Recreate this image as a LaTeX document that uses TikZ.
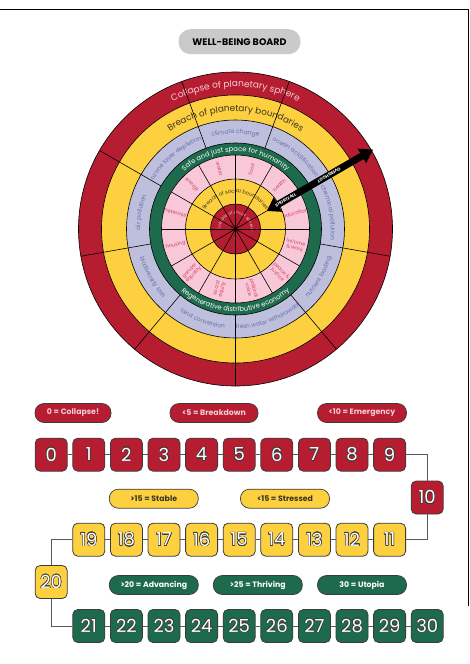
\documentclass[tikz,border=0pt]{standalone}
\usepackage{fontspec}
\setmainfont{Poppins}
\usepackage{contour}
\usetikzlibrary{decorations.text,arrows.meta,calc}

\definecolor{cred}{HTML}{B71D30}
\definecolor{cyel}{HTML}{FDD03F}
\definecolor{clav}{HTML}{BDBFDD}
\definecolor{cgrn}{HTML}{1E6A4C}
\definecolor{cpnk}{HTML}{F8C8D8}
\definecolor{clavtxt}{HTML}{6870A8}
\definecolor{cpnktxt}{HTML}{D43F5C}
\definecolor{clight}{HTML}{F6CCD6}
\definecolor{cdark}{HTML}{3A3520}
\definecolor{cgray}{HTML}{CACACA}
\definecolor{cedge}{HTML}{3C3C3C}

\contourlength{0.45pt}
\contournumber{16}
\newcommand{\nb}[1]{\contour{cedge}{#1}}
\newcommand{\arctxt}[6]{\path[decorate,decoration={text along path,text align=center,text color=#5,text={|\fontsize{#4}{#4}\selectfont|#6}}] ($(C)+(#2:#1)$) arc[start angle=#2,end angle=#3,radius=#1];}

\tikzset{
  ln/.style={draw=black,line width=0.6pt},
  numbox/.style={draw=cedge,line width=0.8pt,rounded corners=5pt,minimum width=32pt,minimum height=33pt,inner sep=0pt,text=white,font=\fontsize{18}{18}\selectfont},
  conn/.style={draw=cedge!85,line width=0.8pt},
  pill/.style={draw=cedge,line width=0.7pt,rounded corners=9pt,minimum height=19pt,minimum width=89pt,inner sep=0pt,font=\fontsize{7.8}{8}\selectfont\bfseries},
  plab/.style={font=\fontsize{5}{5.6}\selectfont,text=cpnktxt,align=center,inner sep=0pt},
  arrtxt/.style={font=\fontsize{4.2}{4.2}\selectfont\bfseries,text=white,inner sep=0pt}
}

\begin{document}
\begin{tikzpicture}[x=1pt,y=1pt]
\useasboundingbox (0,0) rectangle (469,-664);
\fill[white] (0,0) rectangle (469,-664);
\draw[line width=0.8pt] (0,-9) -- (468.5,-9) -- (468.5,-606);

% title
\node[fill=cgray,rounded corners=12pt,minimum width=122pt,minimum height=25pt,inner sep=0pt,font=\fontsize{9.5}{10}\selectfont\bfseries] (title) at (239.5,-41.7) {WELL-BEING BOARD};

% board
\coordinate (C) at (235.5,-229);
\fill[cred] (C) circle[radius=157];
\fill[cyel] (C) circle[radius=134];
\fill[clav] (C) circle[radius=109];
\fill[cgrn] (C) circle[radius=86];
\fill[cpnk] (C) circle[radius=74];
\fill[cyel] (C) circle[radius=50];
\fill[cred] (C) circle[radius=25];

% ring texts
\arctxt{142}{150}{30}{9}{clight}{Collapse of planetary sphere}
\arctxt{117.5}{160}{20}{8.8}{cdark}{Breach of planetary boundaries}
\arctxt{95.3}{165}{95}{6}{clavtxt}{ozone layer depletion}
\arctxt{95.3}{125}{55}{6}{clavtxt}{climate change}
\arctxt{95.3}{85}{15}{6}{clavtxt}{ocean acidification}
\arctxt{95.3}{45}{-25}{6}{clavtxt}{chemical pollution}
\arctxt{95.3}{205}{135}{6}{clavtxt}{air pollution}
\arctxt{99.7}{295}{365}{6}{clavtxt}{nutrient loading}
\arctxt{99.7}{255}{325}{5.8}{clavtxt}{fresh water withdrawals}
\arctxt{99.7}{215}{285}{6}{clavtxt}{land conversion}
\arctxt{99.7}{175}{245}{6}{clavtxt}{biodiversity loss}
\arctxt{77.5}{150}{30}{6.8}{white}{Safe and just space for humanity}
\arctxt{82.5}{200}{340}{6.8}{white}{Regenerative distributive economy}
\arctxt{36}{170}{10}{5.2}{cdark}{Breach of social boundaries}
\arctxt{15}{250}{-70}{4}{clight}{Collapse of social sphere}

% social foundation labels
\foreach \a/\r/\t in {105/-75/water,75/75/food,45/45/health,15/15/education,345/-15/{income\\\& work},315/-45/{peace \&\\justice},285/-75/{political\\voice},255/75/{social\\equity},225/45/{gender\\equality},195/15/housing,165/-15/networks,135/-45/energy}
  \node[plab,rotate=\r] (pl\a) at ($(C)+(\a:62)$) {\t};

% lines
\foreach \a in {30,70,...,350} \draw[ln] ($(C)+(\a:86)$) -- ($(C)+(\a:157)$);
\foreach \a in {0,30,...,330} \draw[ln] (C) -- ($(C)+(\a:74)$);
\foreach \r in {157,134,109,86,74,50,25} \draw[ln] (C) circle[radius=\r];
\fill[black] (C) circle[radius=1.6];

% arrow
\coordinate (A1) at ($(C)+(30:36)$);
\coordinate (A2) at ($(C)+(30:159)$);
\draw[line width=7pt,{Triangle[width=16pt,length=13pt]}-{Triangle[width=16pt,length=13pt]}] (A1) -- (A2);
\node[arrtxt,rotate=30] (sf) at ($(C)+(30:58)$) {SHORTFALL};
\node[arrtxt,rotate=210] (os) at ($(C)+(30:108)$) {OVERSHOOT};

% pills
\node[pill,fill=cred,text=clight,minimum width=76pt] (p1) at (73,-413) {0 = Collapse!};
\node[pill,fill=cred,text=clight,minimum width=88pt] (p2) at (214,-413) {<5 = Breakdown};
\node[pill,fill=cred,text=clight] (p3) at (362,-413) {<10 = Emergency};
\node[pill,fill=cyel,text=cdark] (p4) at (153.8,-498.7) {>15 = Stable};
\node[pill,fill=cyel,text=cdark] (p5) at (285,-498.7) {<15 = Stressed};
\node[pill,fill=cgrn,text=white] (p6) at (153.8,-585) {>20 = Advancing};
\node[pill,fill=cgrn,text=white] (p7) at (257.8,-585) {>25 = Thriving};
\node[pill,fill=cgrn,text=white] (p8) at (362,-585) {30 = Utopia};

% number boxes
\foreach \i in {0,...,9} \node[numbox,fill=cred] (n\i) at ({51.2+37.6*\i},-454.7) {\nb{\i}};
\node[numbox,fill=cred] (n10) at (427.2,-497.5) {\nb{10}};
\foreach \i in {11,...,19} \node[numbox,fill=cyel] (n\i) at ({51.2+37.6*(20-\i)},-539.7) {\nb{\i}};
\node[numbox,fill=cyel] (n20) at (51.2,-582) {\nb{20}};
\foreach \i in {21,...,30} \node[numbox,fill=cgrn] (n\i) at ({51.2+37.6*(\i-20)},-626) {\nb{\i}};

% connectors
\foreach \i [evaluate=\i as \j using int(\i+1)] in {0,...,8} \draw[conn] (n\i) -- (n\j);
\foreach \i [evaluate=\i as \j using int(\i+1)] in {11,...,18} \draw[conn] (n\i) -- (n\j);
\foreach \i [evaluate=\i as \j using int(\i+1)] in {21,...,29} \draw[conn] (n\i) -- (n\j);
\draw[conn] (n9.east) -| (n10.north);
\draw[conn] (n10.south) |- (n11.east);
\draw[conn] (n19.west) -| (n20.north);
\draw[conn] (n20.south) |- (n21.west);
\end{tikzpicture}
\end{document}
